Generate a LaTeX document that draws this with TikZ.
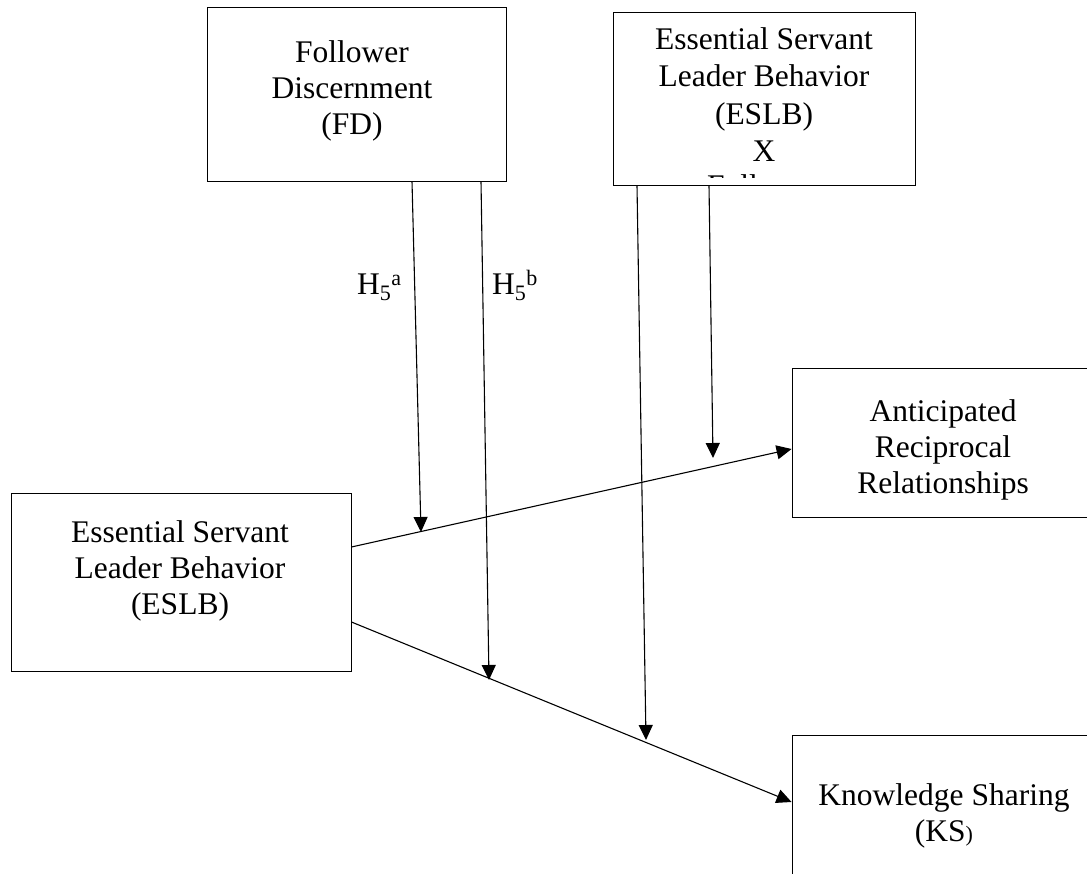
\documentclass[tikz,border=0pt]{standalone}
\usepackage{fontspec}
\setmainfont{Liberation Serif}
\usetikzlibrary{arrows.meta}

\begin{document}
\begin{tikzpicture}[x=1pt, y=-1pt,
        box/.style={draw=black, line width=0.9pt, inner sep=0pt},
        boxtext/.style={align=center, inner sep=0pt, font=\fontsize{31.5}{36}\selectfont},
        link/.style={line width=1.1pt, -{Triangle[length=15pt, width=14pt]}}]
        % page frame
        \clip (0, 0) rectangle (1087, 874);

        % follower discernment box
        \node[box, minimum width=299pt, minimum height=174pt] (fd) at (356.5, 94) {};
        \node[boxtext] (fdtext) at (352, 91) {Follower\\Discernment\\(FD)};

        % interaction box
        \node[box, minimum width=302pt, minimum height=173pt] (eslbx) at (764, 98.5) {};
        \node[boxtext, font=\fontsize{31.5}{37.5}\selectfont] (eslbxtext) at (764, 94.5) {Essential Servant\\Leader Behavior\\(ESLB)\\X};
        % text cut off by the box
        \begin{scope}
            \clip (613, 12) rectangle (915, 178);
            \node[boxtext, anchor=base] (eslbxcut) at (764, 197) {Follower};
        \end{scope}

        % predictor box
        \node[box, minimum width=340pt, minimum height=178pt] (eslb) at (181, 582) {};
        \node[boxtext] (eslbtext) at (180, 571) {Essential Servant\\Leader Behavior\\(ESLB)};

        % outcome boxes
        \node[box, minimum width=304pt, minimum height=149pt] (arr) at (944, 442.5) {};
        \node[boxtext] (arrtext) at (943, 450) {Anticipated\\Reciprocal\\Relationships};

        \node[box, minimum width=304pt, minimum height=165pt] (ks) at (944, 817.5) {};
        \node[boxtext] (kstext) at (944, 816) {Knowledge Sharing\\(KS{\fontsize{22}{22}\selectfont )}};

        % main paths
        \draw[link] ([yshift=35pt]eslb.east) -- ([yshift=-6.5pt]arr.west);
        \draw[link] ([yshift=-40pt]eslb.east) -- ([yshift=15.5pt]ks.west);

        % points on the paths
        \coordinate (h5a) at (421, 532);
        \coordinate (h5b) at (489, 680);
        \coordinate (arrjoin) at (713, 458);
        \coordinate (ksjoin) at (646, 740);

        % moderating arrows
        \draw[link] ([xshift=55.5pt]fd.south) -- (h5a);
        \draw[link] ([xshift=124.5pt]fd.south) -- (h5b);
        \draw[link] ([xshift=-127pt]eslbx.south) -- (ksjoin);
        \draw[link] ([xshift=-55pt]eslbx.south) -- (arrjoin);

        % labels
        \node[boxtext, anchor=base west] (h5alabel) at (357, 295) {H\textsubscript{5}\textsuperscript{a}};
        \node[boxtext, anchor=base west] (h5blabel) at (492, 295) {H\textsubscript{5}\textsuperscript{b}};
    \end{tikzpicture}
\end{document}
